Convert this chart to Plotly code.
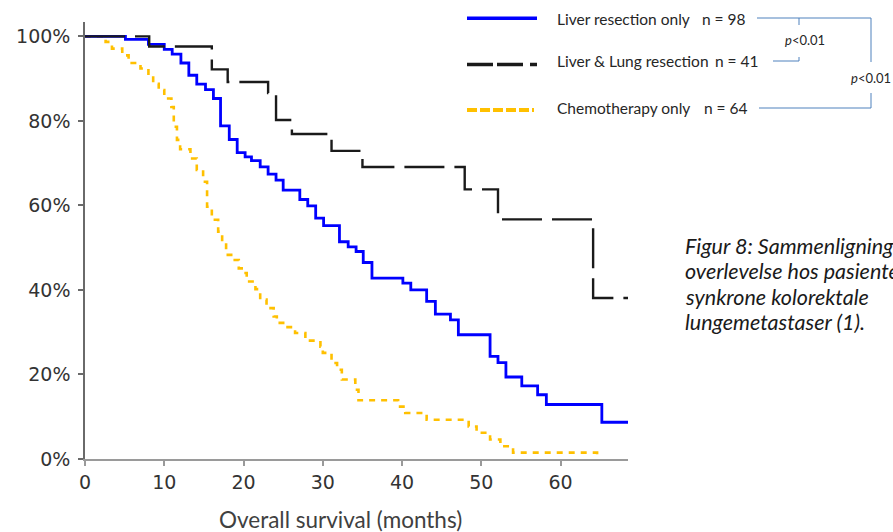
import plotly.graph_objects as go

# ---- data (months, % surviving) ----
t_liver = [0, 5.1, 8.0, 10.0, 11.0, 12.1, 13.1, 14.1, 15.2, 16.2, 17.1, 18.2, 19.2, 20.2, 21.0, 22.1, 23.1, 24.1, 25.0, 27.1,
           28.1, 29.1, 30.1, 32.1, 33.2, 34.2, 35.1, 36.2, 40.1, 41.1, 43.1, 44.2, 46.1, 47.1, 51.1, 52.1, 53.1, 55.1, 57.1, 58.2,
           65.2, 68.5]
s_liver = [100, 99.3, 98.1, 96.9, 95.8, 93.7, 90.8, 88.7, 87.4, 85.3, 78.8, 75.6, 72.5, 71.5, 70.6, 69.1, 67.4, 66.0, 63.6, 61.4,
           59.9, 57.0, 55.2, 51.4, 50.2, 49.1, 46.5, 42.8, 41.6, 40.0, 37.3, 34.3, 32.9, 29.4, 24.3, 22.8, 19.4, 17.3, 15.2, 12.9,
           8.7, 8.7]

t_lung = [0, 8.1, 16.0, 18.0, 23.1, 24.1, 26.1, 31.1, 35.0, 47.9, 52.1, 64.1, 68.5]
s_lung = [100, 97.6, 92.2, 89.2, 86.6, 80.2, 76.9, 72.9, 69.1, 63.8, 56.7, 38.1, 38.1]

t_chemo = [0, 2.6, 3.4, 4.7, 5.5, 7.0, 8.0, 8.6, 9.3, 10.0, 10.9, 11.2, 11.6, 12.0, 13.3, 14.1, 14.9, 15.4, 16.0, 16.8,
           17.3, 17.8, 18.7, 19.4, 20.0, 20.4, 21.5, 22.1, 22.9, 23.8, 24.2, 25.0, 26.5, 27.8, 29.7, 30.0, 31.1, 31.8, 32.4, 34.1,
           34.5, 39.5, 40.4, 43.1, 48.4, 49.4, 51.1, 52.4, 54.0, 64.6]
s_chemo = [100, 98.7, 97.1, 95.5, 93.7, 92.4, 90.6, 88.8, 87.3, 85.3, 83.3, 78.6, 75.5, 73.3, 71.1, 68.4, 65.6, 59.7, 56.6, 53.8,
           51.1, 48.3, 47.1, 45.1, 44.0, 42.0, 40.2, 37.7, 35.7, 33.7, 32.2, 31.2, 29.8, 28.0, 26.6, 25.1, 22.7, 21.1, 18.8, 16.4,
           13.9, 12.4, 10.9, 9.3, 7.7, 6.2, 4.6, 3.0, 1.5, 0]

x_ticks = [0, 10, 20, 30, 40, 50, 60]
y_ticks = [0, 20, 40, 60, 80, 100]
y_ticktext = ["0%", "20%", "40%", "60%", "80%", "100%"]

legend_names = ["Liver resection only", "Liver & Lung resection", "Chemotherapy only"]
legend_n = ["n = 98", "n = 41", "n = 64"]
p_label = "<i>p</i><0.01"
x_title = "Overall survival (months)"
caption_lines = ["Figur 8: Sammenligning", "overlevelse hos pasienter",
                 "synkrone kolorektale", "lungemetastaser (1)."]

BLUE = "#0000FF"
BLACK = "#1a1a1a"
GOLD = "#FFC000"
BRACKET = "#4F81BD"

# ---- figure geometry ----
W, H = 893, 532
L, R, T, B = 85, 265, 22, 73
PW, PH = W - L - R, H - T - B


def px(x):
    return (x - L) / PW


def py(y):
    return (H - B - y) / PH


fig = go.Figure()
fig.add_trace(go.Scatter(x=t_chemo, y=s_chemo, mode="lines", line_shape="hv",
                         line=dict(color=GOLD, width=2.6, dash="6px,6px"), showlegend=False))
fig.add_trace(go.Scatter(x=t_liver, y=s_liver, mode="lines", line_shape="hv",
                         line=dict(color=BLUE, width=2.8), showlegend=False))
fig.add_trace(go.Scatter(x=t_lung, y=s_lung, mode="lines", line_shape="hv",
                         line=dict(color=BLACK, width=2.4, dash="40px,10px"), showlegend=False))

shapes = []
annotations = []

# legend samples
shapes.append(dict(type="line", xref="paper", yref="paper", x0=px(467), x1=px(537), y0=py(18.3), y1=py(18.3),
                   line=dict(color=BLUE, width=3.5)))
shapes.append(dict(type="line", xref="paper", yref="paper", x0=px(467), x1=px(537), y0=py(64.5), y1=py(64.5),
                   line=dict(color=BLACK, width=3.5, dash="26px,4px,26px,7px")))
shapes.append(dict(type="line", xref="paper", yref="paper", x0=px(467), x1=px(534), y0=py(110), y1=py(110),
                   line=dict(color=GOLD, width=4, dash="10px,3px")))

legend_y = [19, 61, 108]
legend_nx = [700, 713, 702]
for name, n, yy, nx in zip(legend_names, legend_n, legend_y, legend_nx):
    annotations.append(dict(xref="paper", yref="paper", x=px(555), y=py(yy), text=name, showarrow=False,
                            xanchor="left", yanchor="middle",
                            font=dict(family="Lato", size=15.5, color="#262626")))
    annotations.append(dict(xref="paper", yref="paper", x=px(nx), y=py(yy), text=n, showarrow=False,
                            xanchor="left", yanchor="middle",
                            font=dict(family="Lato", size=15.5, color="#262626")))

# significance brackets
bl = dict(color=BRACKET, width=1)
for (x0, y0, x1, y1) in [(757, 18, 871, 18), (799, 18, 799, 25), (773, 61, 799, 61), (799, 57, 799, 61),
                         (871, 18, 871, 62), (871, 93, 871, 108), (759, 108, 871, 108)]:
    shapes.append(dict(type="line", xref="paper", yref="paper", x0=px(x0), x1=px(x1), y0=py(y0), y1=py(y1), line=bl))
annotations.append(dict(xref="paper", yref="paper", x=px(783), y=py(40), text=p_label, showarrow=False,
                        xanchor="left", yanchor="middle", font=dict(family="Lato", size=13, color="#262626")))
annotations.append(dict(xref="paper", yref="paper", x=px(849), y=py(78), text=p_label, showarrow=False,
                        xanchor="left", yanchor="middle", font=dict(family="Lato", size=13, color="#262626")))

# x-axis title
annotations.append(dict(xref="paper", yref="paper", x=px(340), y=py(519), text=x_title, showarrow=False,
                        xanchor="center", yanchor="middle", font=dict(family="Lato", size=22.5, color="#404040")))

# caption
cap_y = [246, 271, 297, 322]
for line, yy in zip(caption_lines, cap_y):
    annotations.append(dict(xref="paper", yref="paper", x=px(683), y=py(yy), text="<i>" + line + "</i>",
                            showarrow=False, xanchor="left", yanchor="middle",
                            font=dict(family="Lato", size=21.5, color="#1a1a1a")))

fig.update_layout(
    width=W, height=H, margin=dict(l=L, r=R, t=T, b=B, autoexpand=False),
    paper_bgcolor="white", plot_bgcolor="white",
    shapes=shapes, annotations=annotations, showlegend=False,
    xaxis=dict(range=[0, 68.5], tickvals=x_ticks, showgrid=False, zeroline=False,
               showline=True, linecolor="#9a9a9a", linewidth=2,
               ticks="outside", ticklen=5, tickcolor="#9a9a9a", tickwidth=1.5,
               ticklabelstandoff=0,
               tickfont=dict(family="DejaVu Sans", size=19, color="#333333")),
    yaxis=dict(range=[0, 103.4], tickvals=y_ticks, ticktext=y_ticktext, showgrid=False, zeroline=False,
               showline=True, linecolor="#6a6a6a", linewidth=1.5,
               ticks="outside", ticklen=5, tickcolor="#6a6a6a", tickwidth=1.5,
               ticklabelstandoff=4,
               tickfont=dict(family="DejaVu Sans", size=19, color="#333333")),
)

fig.write_html("out.html")
